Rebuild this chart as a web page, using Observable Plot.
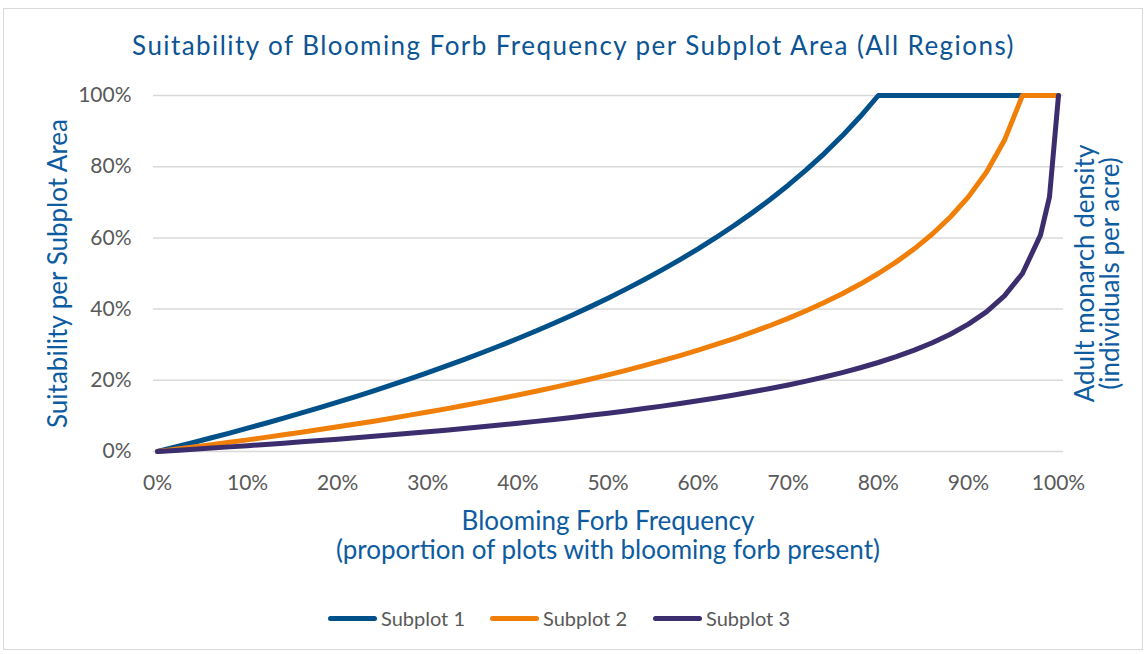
<!DOCTYPE html>
<html>
<head>
<meta charset="utf-8">
<script src="https://cdn.jsdelivr.net/npm/d3@7"></script>
<script src="https://cdn.jsdelivr.net/npm/@observablehq/plot@0.6"></script>
<style>
  html, body { margin: 0; padding: 0; background: #fff; }
  #wrap { position: relative; width: 1147px; height: 654px; overflow: hidden; background: #fff; }
  #border { position: absolute; left: 3px; top: 8px; width: 1138px; height: 640px; border: 1px solid #d9d9d9; }
  #title { position: absolute; left: 0; top: 30px; width: 1147px; text-align: center;
           font-family: Lato, sans-serif; font-size: 26px; line-height: 30px; color: #0c5493; white-space: nowrap; }
  #chart { position: absolute; left: 0; top: 75px; }
  #legend { position: absolute; left: 0; top: 604px; width: 1147px; height: 28px; }
  .item { position: absolute; top: 0; height: 28px; display: flex; align-items: center;
          font-family: Lato, sans-serif; font-size: 20px; color: #595959; }
  .swatch { width: 49px; height: 5px; border-radius: 3px; margin-right: 4px; }
</style>
</head>
<body>
<div id="wrap">
  <div id="border"></div>
  <div id="title"><span id="titleText"></span></div>
  <div id="chart"></div>
  <div id="legend"></div>
</div>
<script>
const titleText = "Suitability of Blooming Forb Frequency per Subplot Area (All Regions)";
const xLabel = "Blooming Forb Frequency\n(proportion of plots with blooming forb present)";
const yLabel = "Suitability per Subplot Area";
const y2Label = "Adult monarch density\n(individuals per acre)";

const seriesNames = ["Subplot 1", "Subplot 2", "Subplot 3"];
const seriesColors = ["#00508a", "#f07f09", "#3b2d6e"];

const xTicks = [0, 10, 20, 30, 40, 50, 60, 70, 80, 90, 100];
const yTicks = [0, 20, 40, 60, 80, 100];

// Blooming forb frequency (%)
const freq = [0,2,4,6,8,10,12,14,16,18,20,22,24,26,28,30,32,34,36,38,40,42,44,46,48,50,
              52,54,56,58,60,62,64,66,68,70,72,74,76,78,80,82,84,86,88,90,92,94,96,98,99,100];

// Suitability (%) per subplot
const s1 = [0,1.26,2.54,3.85,5.18,6.55,7.94,9.37,10.84,12.33,13.86,15.44,17.05,18.71,20.41,22.16,23.97,25.82,27.73,29.70,
            31.74,33.84,36.03,38.29,40.63,43.07,45.61,48.25,51.01,53.90,56.93,60.12,63.48,67.03,70.80,74.81,79.10,83.70,88.67,94.08,
            100,100,100,100,100,100,100,100,100,100,100,100];
const s2 = [0,0.63,1.27,1.92,2.59,3.27,3.97,4.68,5.42,6.17,6.93,7.72,8.52,9.35,10.21,11.08,11.98,12.91,13.86,14.85,
            15.87,16.92,18.01,19.14,20.31,21.53,22.80,24.12,25.51,26.95,28.47,30.06,31.74,33.51,35.40,37.40,39.55,41.85,44.33,47.04,
            50.00,53.27,56.93,61.08,65.87,71.53,78.46,87.40,100,100,100,100];
const s3 = [0,0.31,0.63,0.96,1.30,1.64,1.99,2.34,2.71,3.08,3.47,3.86,4.26,4.68,5.10,5.54,5.99,6.45,6.93,7.42,
            7.93,8.46,9.01,9.57,10.16,10.77,11.40,12.06,12.75,13.47,14.23,15.03,15.87,16.76,17.70,18.70,19.77,20.92,22.17,23.52,
            25.00,26.64,28.47,30.54,32.94,35.77,39.23,43.70,50.00,60.77,71.53,100];

const seriesValues = [s1, s2, s3];
const rows = seriesNames.flatMap((name, i) => freq.map((f, j) => ({series: name, x: f, y: seriesValues[i][j]})));

// title: stretch letter spacing to the reference's title width
const tSpan = document.getElementById("titleText");
tSpan.textContent = titleText;
const targetW = 883;
const w0 = tSpan.getBoundingClientRect().width;
tSpan.style.letterSpacing = ((targetW - w0) / titleText.length).toFixed(2) + "px";

const blue = "#0d5ba0";
const chart = Plot.plot({
  width: 1147,
  height: 515,
  marginLeft: 157,
  marginRight: 89,
  marginTop: 20,
  marginBottom: 139,
  style: { fontFamily: "Lato, sans-serif", fontSize: "21px", color: "#595959", background: "transparent", overflow: "visible" },
  x: { domain: [0, 100], ticks: xTicks, tickFormat: d => d + "%", tickSize: 0, tickPadding: 24, label: null },
  y: { domain: [0, 100], ticks: yTicks, tickFormat: d => d + "%", tickSize: 0, tickPadding: 26, label: null },
  color: { domain: seriesNames, range: seriesColors },
  marks: [
    Plot.ruleY(yTicks, { stroke: "#d9d9d9", strokeWidth: 1.5, insetLeft: -4, insetRight: -5 }),
    Plot.line(rows, { x: "x", y: "y", z: "series", stroke: "series", strokeWidth: 5,
                      strokeLinejoin: "round", strokeLinecap: "round" }),
    Plot.text([xLabel], { frameAnchor: "bottom", dy: 83.5, lineAnchor: "middle", textAnchor: "middle", lineHeight: 1.12,
                          fill: blue, fontSize: 26 }),
    Plot.text([yLabel], { frameAnchor: "left", dx: -99, rotate: -90, lineAnchor: "middle", textAnchor: "middle",
                          fill: blue, fontSize: 26 }),
    Plot.text([y2Label], { frameAnchor: "right", dx: 40, rotate: -90, lineAnchor: "middle", textAnchor: "middle", lineHeight: 0.97,
                           fill: blue, fontSize: 26 })
  ]
});
document.getElementById("chart").appendChild(chart);

// legend
const legend = document.getElementById("legend");
const legendX = [328, 490, 653];
seriesNames.forEach((name, i) => {
  const item = document.createElement("div");
  item.className = "item";
  item.style.left = legendX[i] + "px";
  const sw = document.createElement("div");
  sw.className = "swatch";
  sw.style.background = seriesColors[i];
  const lab = document.createElement("span");
  lab.textContent = name;
  item.appendChild(sw);
  item.appendChild(lab);
  legend.appendChild(item);
});
</script>
</body>
</html>
